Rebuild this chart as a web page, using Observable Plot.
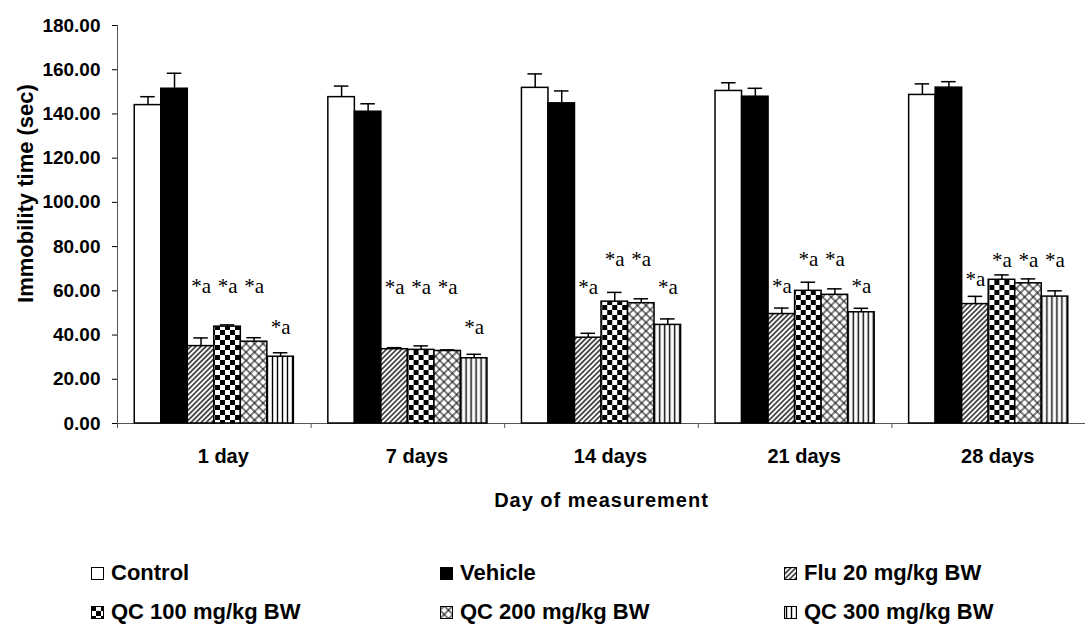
<!DOCTYPE html>
<html><head><meta charset="utf-8">
<script src="https://cdn.jsdelivr.net/npm/d3@7"></script>
<script src="https://cdn.jsdelivr.net/npm/@observablehq/plot@0.6"></script>
<style>
body{margin:0;background:#fff;}
#wrap{position:relative;width:1085px;height:632px;overflow:hidden;font-family:"Liberation Sans",Arial,sans-serif;}
#chart{position:absolute;left:0;top:0;}
.leg{position:absolute;display:flex;align-items:center;font-weight:bold;font-size:22px;color:#000;white-space:nowrap;line-height:1;transform:translateY(-50%);}
.leg svg{margin-right:7px;flex:none}
</style></head><body>
<div id="wrap">
<svg width="0" height="0" style="position:absolute">
<defs>
<pattern id="pFlu" patternUnits="userSpaceOnUse" width="3.6" height="3.6" patternTransform="rotate(45)"><rect width="3.6" height="3.6" fill="#fff"/><line x1="1.8" y1="0" x2="1.8" y2="3.6" stroke="#000" stroke-width="1.3"/></pattern>
<pattern id="pQ100" patternUnits="userSpaceOnUse" width="10" height="10"><rect width="10" height="10" fill="#fff"/><rect width="5" height="5" fill="#000"/><rect x="5" y="5" width="5" height="5" fill="#000"/></pattern>
<pattern id="pQ200" patternUnits="userSpaceOnUse" width="6" height="6" patternTransform="rotate(45)"><rect width="6" height="6" fill="#fff"/><line x1="3" y1="0" x2="3" y2="6" stroke="#000" stroke-width="1"/><line x1="0" y1="3" x2="6" y2="3" stroke="#000" stroke-width="1"/></pattern>
<pattern id="pQ300" patternUnits="userSpaceOnUse" width="5" height="5"><rect width="5" height="5" fill="#fff"/><line x1="2.5" y1="0" x2="2.5" y2="5" stroke="#000" stroke-width="1.4"/></pattern>
</defs></svg>
<div id="chart"></div>
</div>
<script>
// ---- data ----
const days = ["1 day", "7 days", "14 days", "21 days", "28 days"];
const groups = ["Control", "Vehicle", "Flu 20 mg/kg BW", "QC 100 mg/kg BW", "QC 200 mg/kg BW", "QC 300 mg/kg BW"];
const control    = [144.0, 147.6, 151.8, 150.4, 148.6];
const controlErr = [3.8, 5.0, 6.3, 3.7, 5.0];
const vehicle    = [151.4, 141.0, 144.8, 147.8, 151.9];
const vehicleErr = [7.0, 3.6, 5.6, 3.8, 2.7];
const flu        = [35.0, 33.6, 38.8, 49.5, 54.0];
const fluErr     = [3.7, 0.7, 2.0, 2.7, 3.5];
const qc100      = [43.8, 33.3, 55.1, 60.0, 65.0];
const qc100Err   = [0.8, 1.8, 4.2, 3.9, 2.2];
const qc200      = [37.0, 32.8, 54.4, 58.2, 63.4];
const qc200Err   = [1.8, 0.5, 2.0, 2.7, 2.0];
const qc300      = [30.2, 29.5, 44.6, 50.3, 57.4];
const qc300Err   = [1.8, 1.8, 2.7, 1.8, 2.6];
// "*a" significance marks (y position of label, per day) for Flu, QC100, QC200, QC300
const sigMark  = "*a";
const sigFlu   = [62.0, 61.6, 61.6, 61.9, 65.3];
const sigQc100 = [62.0, 61.6, 74.4, 74.4, 74.0];
const sigQc200 = [62.0, 61.6, 74.4, 74.4, 74.0];
const sigQc300 = [43.5, 43.5, 61.6, 61.9, 74.0];
const yTicks = [0, 20, 40, 60, 80, 100, 120, 140, 160, 180];
const yLabel = "Immobility time (sec)";
const xLabel = "Day of measurement";

// ---- styles ----
const fills = ["#fff", "#000", "url(#pFlu)", "url(#pQ100)", "url(#pQ200)", "url(#pQ300)"];

// ---- build tables ----
const values = [control, vehicle, flu, qc100, qc200, qc300];
const errs = [controlErr, vehicleErr, fluErr, qc100Err, qc200Err, qc300Err];
const rows = [];
days.forEach((day, i) => groups.forEach((g, j) => rows.push({day, group: g, value: values[j][i], err: errs[j][i]})));
const sigs = [null, null, sigFlu, sigQc100, sigQc200, sigQc300];
const sigRows = [];
days.forEach((day, i) => groups.forEach((g, j) => { if (sigs[j]) sigRows.push({day, group: g, labelY: sigs[j][i], mark: sigMark}); }));

// ---- layout ----
const W = 1085, H = 520, ML = 117, MR = 0, MT = 25, MB = 97;
const padOuter = 0.65;
const facetW = (W - ML - MR) / days.length;
const step = facetW / (groups.length + 2 * padOuter);
const axisColor = "#555";

const marks = [
  Plot.ruleY([0], {stroke: axisColor, strokeWidth: 1}),
  Plot.ruleX([days[0]], {fx: d => d, x: () => groups[0], y1: 0, y2: 180, dx: -step * (padOuter + 0.5), stroke: axisColor, strokeWidth: 1}),
  Plot.barY(rows, {fx: "day", x: "group", y: "value", fill: "group", stroke: "#000", strokeWidth: 1.5}),
  Plot.ruleX(rows, {fx: "day", x: "group", y1: "value", y2: d => d.value + d.err, stroke: "#000", strokeWidth: 1.5}),
  Plot.tickY(rows, {fx: "day", x: "group", y: d => d.value + d.err, stroke: "#000", strokeWidth: 1.5, inset: 6}),
  Plot.text(sigRows, {fx: "day", x: "group", y: "labelY", text: "mark", fontFamily: "'Liberation Serif', 'Times New Roman', serif", fontSize: 21, fontWeight: "normal"}),
  Plot.text(days, {fx: d => d, text: d => d, frameAnchor: "bottom", lineAnchor: "middle", dy: 33, dx: 9, fontSize: 20}),
  Plot.text([xLabel], {fx: () => days[2], text: d => d, frameAnchor: "bottom", lineAnchor: "middle", dy: 77, fontSize: 20, className: "xlab"}),
  Plot.text([yLabel], {fx: () => days[0], text: d => d, frameAnchor: "left", textAnchor: "middle", lineAnchor: "middle", rotate: -90, dx: -92, dy: -31, fontSize: 22})
];
if (Plot.axisFx) marks.unshift(Plot.axisFx({anchor: "bottom", tickSize: 5, tickFormat: () => "", dx: -facetW / 2, stroke: axisColor, label: null}));

const chart = Plot.plot({
  width: W, height: H, marginLeft: ML, marginRight: MR, marginTop: MT, marginBottom: MB,
  style: {fontFamily: "'Liberation Sans', Arial, sans-serif", fontWeight: "bold", fontSize: "19px", color: "#000", background: "#fff"},
  fx: {domain: days, padding: 0, round: false, label: null},
  x: {domain: groups, paddingInner: 0, paddingOuter: padOuter, round: false, axis: null},
  y: {domain: [0, 180], ticks: yTicks, tickFormat: d => d.toFixed(2), tickSize: 5, tickPadding: 12, label: null},
  color: {domain: groups, range: fills},
  marks
});
document.getElementById("chart").appendChild(chart);
chart.querySelectorAll(".xlab text, g.xlab text").forEach(t => t.setAttribute("letter-spacing", "1"));

// ---- legend (HTML below the svg) ----
const legCols = [91, 440, 784];
const legRows = [573, 612];
const wrap = document.getElementById("wrap");
groups.forEach((g, j) => {
  const div = document.createElement("div");
  div.className = "leg";
  div.style.left = legCols[j % 3] + "px";
  div.style.top = legRows[Math.floor(j / 3)] + "px";
  div.innerHTML = `<svg width="13" height="13"><rect x="0.5" y="0.5" width="12" height="12" fill="${fills[j]}" stroke="#000" stroke-width="1"/></svg><span>${g}</span>`;
  wrap.appendChild(div);
});
</script>
</body></html>
